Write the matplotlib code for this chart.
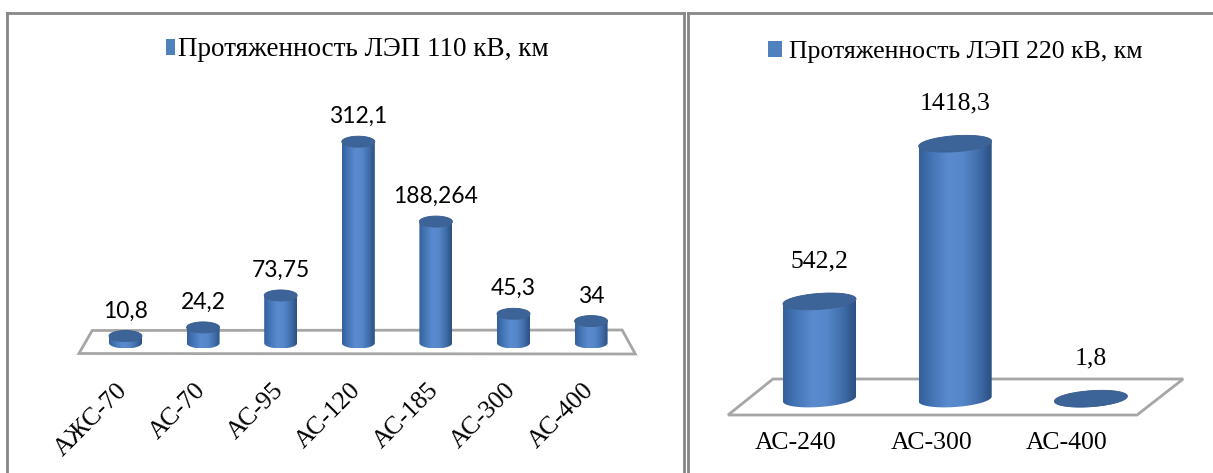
import matplotlib as mpl
mpl.use("Agg")
import matplotlib.pyplot as plt
import numpy as np
from matplotlib.colors import LinearSegmentedColormap
from matplotlib.patches import Polygon, Patch

W, H, DPI = 1213, 473, 100
SERIF = ["Liberation Serif", "DejaVu Serif"]
SANS = ["Lato", "DejaVu Sans"]
FRAME, FLOOR = "#868686", "#a6a6a6"
BODY = LinearSegmentedColormap.from_list(
    "cyl", ["#34609c", "#4677b8", "#5a8bcf", "#5687c9", "#4270ad", "#2b4f82"])
CAP = "#3c6498"

# data
cats_110 = ["АЖС-70", "АС-70", "АС-95", "АС-120", "АС-185", "АС-300", "АС-400"]
km_110 = [10.8, 24.2, 73.75, 312.1, 188.264, 45.3, 34]
cats_220 = ["АС-240", "АС-300", "АС-400"]
km_220 = [542.2, 1418.3, 1.8]
legend_110 = "Протяженность ЛЭП 110 кВ, км"
legend_220 = "Протяженность ЛЭП 220 кВ, км"


def px_axes(fig, x0, y0, x1, y1):
    return fig.add_axes([x0 / W, 1 - y1 / H, (x1 - x0) / W, (y1 - y0) / H])


def fmt(v):
    return f"{v:g}".replace(".", ",")


def cylinder(ax, cx, h, a, b, k, zo):
    """a, b in data units; k = shear (dy per dx, data units)."""
    t_lo = np.linspace(np.pi, 2 * np.pi, 80)
    xs = cx + a * np.cos(t_lo)
    bot = b * np.sin(t_lo) + k * (xs - cx)
    top = h + b * np.sin(t_lo) + k * (xs - cx)
    pts = np.vstack([np.column_stack([xs, bot]), np.column_stack([xs[::-1], top[::-1]])])
    body = Polygon(pts, closed=True, fc="none", ec="none", zorder=zo)
    ax.add_patch(body)
    grad = np.linspace(0, 1, 256)[None, :]
    im = ax.imshow(grad, cmap=BODY, aspect="auto", interpolation="bicubic", zorder=zo,
                   extent=[cx - a, cx + a, -b - abs(k) * a, h + b + abs(k) * a])
    im.set_clip_path(body)
    t = np.linspace(0, 2 * np.pi, 160)
    xc = cx + a * np.cos(t)
    cap = Polygon(np.column_stack([xc, h + b * np.sin(t) + k * (xc - cx)]), closed=True,
                  fc=CAP, ec="#36598a", lw=0.6, zorder=zo + 0.1)
    ax.add_patch(cap)


def frame(ax, sides):
    for s, sp in ax.spines.items():
        sp.set_visible(s in sides)
        sp.set_color(FRAME)
        sp.set_linewidth(2.0)
    ax.set_xticks([]); ax.set_yticks([])
    ax.patch.set_alpha(0)


fig = plt.figure(figsize=(W / DPI, H / DPI), dpi=DPI)

# ---------------- left panel: 110 kV ----------------
ax = px_axes(fig, 7, 13, 684, 473)
frame(ax, ("left", "top", "right"))
sx, sy = 77.6, 0.645            # px per data unit
x0px, zero_px = 125.5, 343
ax.set_xlim(-(x0px - 7) / sx, -(x0px - 7) / sx + 677 / sx)
ax.set_ylim(-(473 - zero_px) / sy, (zero_px - 13) / sy)
n = len(km_110)
floor = [(-0.43, 12.5 / sy), (n - 1 + 0.40, 13 / sy),
         (n - 1 + 0.57, -11 / sy), (-0.60, -10.5 / sy)]
ax.add_patch(Polygon(floor, closed=True, fc="white", ec=FLOOR, lw=2.0, zorder=1))
for i, v in enumerate(km_110):
    cylinder(ax, i, v, 16.5 / sx, 5.5 / sy, 0.0, zo=2 + i)
    ax.annotate(fmt(v), xy=(i, v + 5.5 / sy), xytext=(0, 13 * 0.72), textcoords="offset points",
                ha="center", va="baseline", fontsize=16.5, family=SANS, color="black")
    ax.text(i - 1 / sx, -(387 - zero_px) / sy, cats_110[i], rotation=45, rotation_mode="anchor",
            ha="right", va="center", fontsize=18.5, family=SERIF)
fs = 19.5 * 100 / 72
ax.legend([Patch(fc="#4f81bd", ec="none")], [legend_110], loc="center left",
          bbox_to_anchor=(166 / W, 1 - 50 / H), bbox_transform=fig.transFigure,
          frameon=False, borderpad=0, borderaxespad=0, handlelength=9 / fs,
          handleheight=14 / fs, handletextpad=3 / fs, prop={"family": SERIF, "size": 19.5})

# ---------------- right panel: 220 kV ----------------
ax = px_axes(fig, 688, 13, 1213, 473)
frame(ax, ("left", "top"))
sx, sy = 135.7, 0.18
x0px, zero_px = 819.5, 399
ax.set_xlim(-(x0px - 688) / sx, -(x0px - 688) / sx + 525 / sx)
ax.set_ylim(-(473 - zero_px) / sy, (zero_px - 13) / sy)
n = len(km_220)
floor = [(-0.343, 20 / sy), (n - 1 + 0.68, 20 / sy),
         (n - 1 + 0.34, -16 / sy), (-0.674, -16 / sy)]
ax.add_patch(Polygon(floor, closed=True, fc="white", ec=FLOOR, lw=2.0, zorder=1))
shear = (5 / sy) / (73 / sx)
for i, v in enumerate(km_220):
    cylinder(ax, i, v, 36.5 / sx, 8 / sy, shear, zo=2 + i)
    ax.annotate(fmt(v), xy=(i, v + 10 / sy), xytext=(0, 24 * 0.72), textcoords="offset points",
                ha="center", va="baseline", fontsize=18.5, family=SERIF, color="black")
    ax.text(i - 24 / sx, -(443 - zero_px) / sy, cats_220[i], ha="center", va="center",
            fontsize=18.5, family=SERIF)
fs = 18.5 * 100 / 72
ax.legend([Patch(fc="#4f81bd", ec="none")], [legend_220], loc="center left",
          bbox_to_anchor=(768 / W, 1 - 52 / H), bbox_transform=fig.transFigure,
          frameon=False, borderpad=0, borderaxespad=0, handlelength=14 / fs,
          handleheight=14 / fs, handletextpad=7 / fs, prop={"family": SERIF, "size": 18.5})

fig.savefig("out.png", dpi=DPI, facecolor="white")
